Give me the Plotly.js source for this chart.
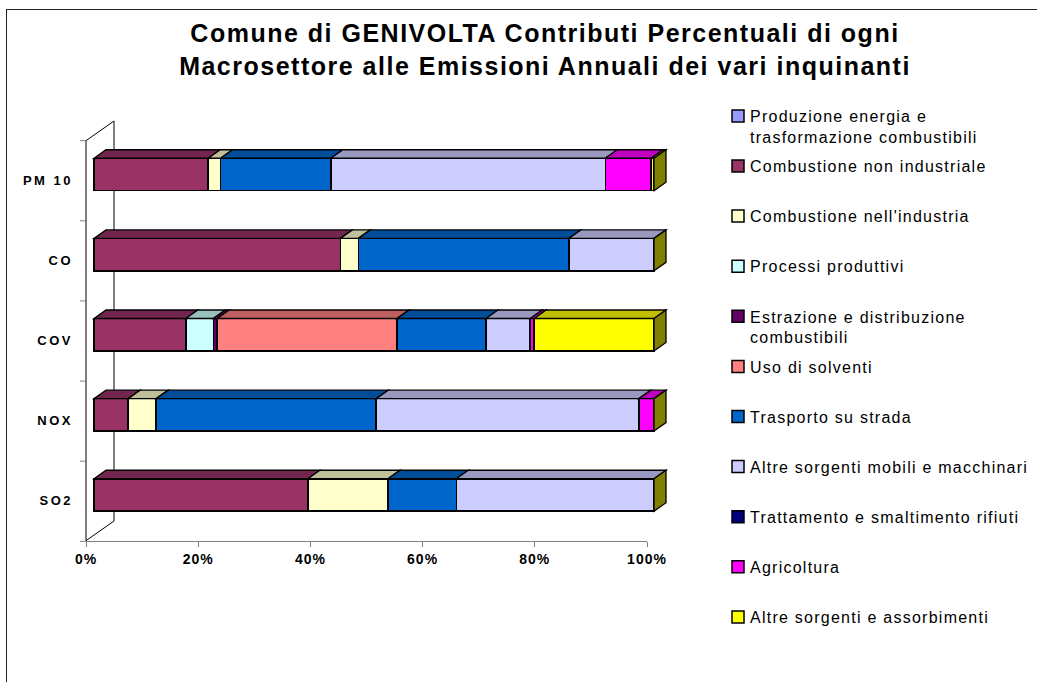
<!DOCTYPE html>
<html>
<head>
<meta charset="utf-8">
<script src="https://cdn.plot.ly/plotly-3.0.1.min.js"></script>
<style>
  html, body { margin: 0; padding: 0; background: #fff; }
  #wrap { position: relative; width: 1037px; height: 682px; }
  #chart { width: 1037px; height: 682px; }
  #frame { position: absolute; left: 6px; top: 9px; right: -2px; bottom: -2px;
           border-left: 1.5px solid #222; border-top: 1.5px solid #222; pointer-events: none; }
  .ytick text { letter-spacing: 2.5px; }
  .x2tick text { letter-spacing: 1px; }
  .gtitle { letter-spacing: 1.5px; }
  .legendtext { letter-spacing: 1.25px; }
  .legend .legendsymbols { transform: translate(8px, 0px); }
</style>
</head>
<body>
<div id="wrap"><div id="chart"></div><div id="frame"></div></div>
<script>
// ---------- data (percent contribution per pollutant, top to bottom) ----------
const categories = ['PM 10', 'CO', 'COV', 'NOX', 'SO2'];

const sectorNames = [
  'Produzione energia e<br>trasformazione combustibili',
  'Combustione non industriale',
  "Combustione nell'industria",
  'Processi produttivi',
  'Estrazione e distribuzione<br>combustibili',
  'Uso di solventi',
  'Trasporto su strada',
  'Altre sorgenti mobili e macchinari',
  'Trattamento e smaltimento rifiuti',
  'Agricoltura',
  'Altre sorgenti e assorbimenti'
];

const produzioneEnergia      = [0,    0,    0,    0,    0];
const combustioneNonInd      = [20.4, 44.0, 16.4, 6.1,  38.2];
const combustioneIndustria   = [2.2,  3.2,  0,    5.0,  14.3];
const processiProduttivi     = [0,    0,    4.9,  0,    0];
const estrazioneDistrib      = [0,    0,    0.7,  0,    0];
const usoSolventi            = [0,    0,    32.1, 0,    0];
const trasportoStrada        = [19.7, 37.6, 15.9, 39.3, 12.2];
const altreMobili            = [49.0, 15.2, 7.9,  46.9, 35.3];
const trattamentoRifiuti     = [0,    0,    0,    0,    0];
const agricoltura            = [8.2,  0,    0.7,  2.7,  0];
const altreSorgentiAssorb    = [0.5,  0,    21.4, 0,    0];

const xTickValues = [0, 20, 40, 60, 80, 100];

// ---------- styles ----------
const sectorValues = [produzioneEnergia, combustioneNonInd, combustioneIndustria, processiProduttivi,
  estrazioneDistrib, usoSolventi, trasportoStrada, altreMobili, trattamentoRifiuti, agricoltura, altreSorgentiAssorb];
const sectorColors = ['#9999FF', '#993366', '#FFFFCC', '#CCFFFF', '#660066', '#FF8080',
  '#0066CC', '#CCCCFF', '#000080', '#FF00FF', '#FFFF00'];

function shade(hex, f) {
  const n = parseInt(hex.slice(1), 16);
  const r = Math.round(((n >> 16) & 255) * f), g = Math.round(((n >> 8) & 255) * f), b = Math.round((n & 255) * f);
  return 'rgb(' + r + ',' + g + ',' + b + ')';
}

const FONT = 'Liberation Sans, Arial, sans-serif';
const nCat = categories.length;
const yPos = categories.map((c, i) => nCat - 1 - i);
const barWidth = 0.405;

// geometry helpers (pixel -> data scale)
const L = 80, R = 670, T = 100, B = 640;
const barX0px = 94, barX1px = 654;
const pxPerX = (barX1px - barX0px) / 100;
const xRange = [(L - barX0px) / pxPerX, (R - barX0px) / pxPerX];
const pxPerY = 80.125, yZeroPx = 495;
const yData = px => (yZeroPx - px) / pxPerY;
const yRange = [yData(B), yData(T)];
const dX = 12 / pxPerX, dY = 8.5 / pxPerY;
const xFront = (86 - barX0px) / pxPerX, xBack = (114 - barX0px) / pxPerX;
const floorFront = 540.7, floorBack = 521, wallTopFront = 140.7, wallTopBack = 121;
const xTick = (80 - barX0px) / pxPerX;

const traces = sectorNames.map((name, k) => ({
  type: 'bar', orientation: 'h', name: name + (name.indexOf('<br>') < 0 ? '<br> ' : ''),
  x: sectorValues[k], y: yPos, width: barWidth,
  marker: { color: sectorColors[k], line: { color: '#000', width: 1.5 } },
  legendgroup: 'g' + k, hoverinfo: 'skip', xaxis: 'x', yaxis: 'y'
}));
// invisible trace so the tick-label axis is drawn
traces.push({ type: 'scatter', mode: 'markers', x: [0], y: [-50], xaxis: 'x2', yaxis: 'y',
  marker: { opacity: 0 }, showlegend: false, hoverinfo: 'skip' });

const shapes = [];
// frame (walls / floor)
const frameLine = { color: '#000', width: 1 };
shapes.push({ type: 'line', xref: 'x', yref: 'y', layer: 'below', x0: xFront, x1: xFront, y0: yData(floorFront), y1: yData(wallTopFront), line: frameLine });
shapes.push({ type: 'line', xref: 'x', yref: 'y', layer: 'below', x0: xBack, x1: xBack, y0: yData(floorBack), y1: yData(wallTopBack), line: frameLine });
shapes.push({ type: 'line', xref: 'x', yref: 'y', layer: 'below', x0: xFront, x1: xBack, y0: yData(wallTopFront), y1: yData(wallTopBack), line: frameLine });
shapes.push({ type: 'line', xref: 'x', yref: 'y', layer: 'below', x0: xFront, x1: xBack, y0: yData(floorFront), y1: yData(floorBack), line: frameLine });
for (let k = 0; k <= nCat; k++) {
  const yy = yData(wallTopFront) - k;
  shapes.push({ type: 'line', xref: 'x', yref: 'y', layer: 'below', x0: xTick, x1: xFront,
    y0: yy, y1: yy, line: { color: '#808080', width: 1 } });
}
// 3-D faces of bars
categories.forEach((c, i) => {
  const yt = yPos[i] + barWidth / 2, yb = yPos[i] - barWidth / 2;
  let acc = 0;
  sectorValues.forEach((vals, k) => {
    const v = vals[i];
    if (v > 0) {
      const x0 = acc, x1 = acc + v;
      shapes.push({ type: 'path', xref: 'x', yref: 'y', layer: 'above',
        path: 'M ' + x0 + ',' + yt + ' L ' + x1 + ',' + yt + ' L ' + (x1 + dX) + ',' + (yt + dY) + ' L ' + (x0 + dX) + ',' + (yt + dY) + ' Z',
        fillcolor: shade(sectorColors[k], 0.75), line: { color: '#000', width: 1.3 } });
      acc = x1;
    }
  });
  shapes.push({ type: 'path', xref: 'x', yref: 'y', layer: 'above',
    path: 'M ' + acc + ',' + yb + ' L ' + acc + ',' + yt + ' L ' + (acc + dX) + ',' + (yt + dY) + ' L ' + (acc + dX) + ',' + (yb + dY) + ' Z',
    fillcolor: shade(sectorColors[sectorColors.length - 1], 0.5), line: { color: '#000', width: 1.3 } });
});

const layout = {
  width: 1037, height: 682,
  margin: { l: L, r: 1037 - R, t: T, b: 682 - B, pad: 0, autoexpand: false },
  paper_bgcolor: '#fff', plot_bgcolor: 'rgba(0,0,0,0)',
  barmode: 'stack',
  font: { family: FONT, color: '#000' },
  title: {
    text: 'Comune di GENIVOLTA Contributi Percentuali di ogni<br>Macrosettore alle Emissioni Annuali dei vari inquinanti',
    font: { family: FONT, size: 25, weight: 'bold', color: '#000' },
    xref: 'container', x: 545 / 1037, xanchor: 'center',
    yref: 'container', y: 1 - 42 / 682, yanchor: 'middle'
  },
  xaxis: { range: xRange, visible: false, fixedrange: true },
  xaxis2: {
    domain: [(86 - L) / (R - L), (647 - L) / (R - L)], anchor: 'free',
    position: (B - floorFront) / (B - T),
    range: [0, 100], tickvals: xTickValues, ticktext: xTickValues.map(v => v + '%'),
    showline: true, linecolor: '#808080', linewidth: 1.5,
    ticks: 'outside', ticklen: 5, tickcolor: '#808080', tickwidth: 1,
    showgrid: false, zeroline: false, fixedrange: true,
    tickfont: { family: FONT, size: 14, weight: 'bold', color: '#000' }
  },
  yaxis: {
    range: yRange, showgrid: false, zeroline: false, showline: false, fixedrange: true,
    tickvals: yPos.map(v => v - 5.5 / pxPerY), ticktext: categories,
    ticks: '', ticklabelstandoff: 6,
    tickfont: { family: FONT, size: 13, weight: 'bold', color: '#000' }
  },
  showlegend: true,
  legend: {
    x: (710 - L) / (R - L), xanchor: 'left', y: (B - 99) / (B - T), yanchor: 'top',
    traceorder: 'grouped', tracegroupgap: 5.5, valign: 'top',
    font: { family: FONT, size: 16, color: '#000' },
    bgcolor: 'rgba(0,0,0,0)', maxheight: 1
  },
  shapes: shapes
};

Plotly.newPlot('chart', traces, layout, { displayModeBar: false, staticPlot: true });
</script>
</body>
</html>
